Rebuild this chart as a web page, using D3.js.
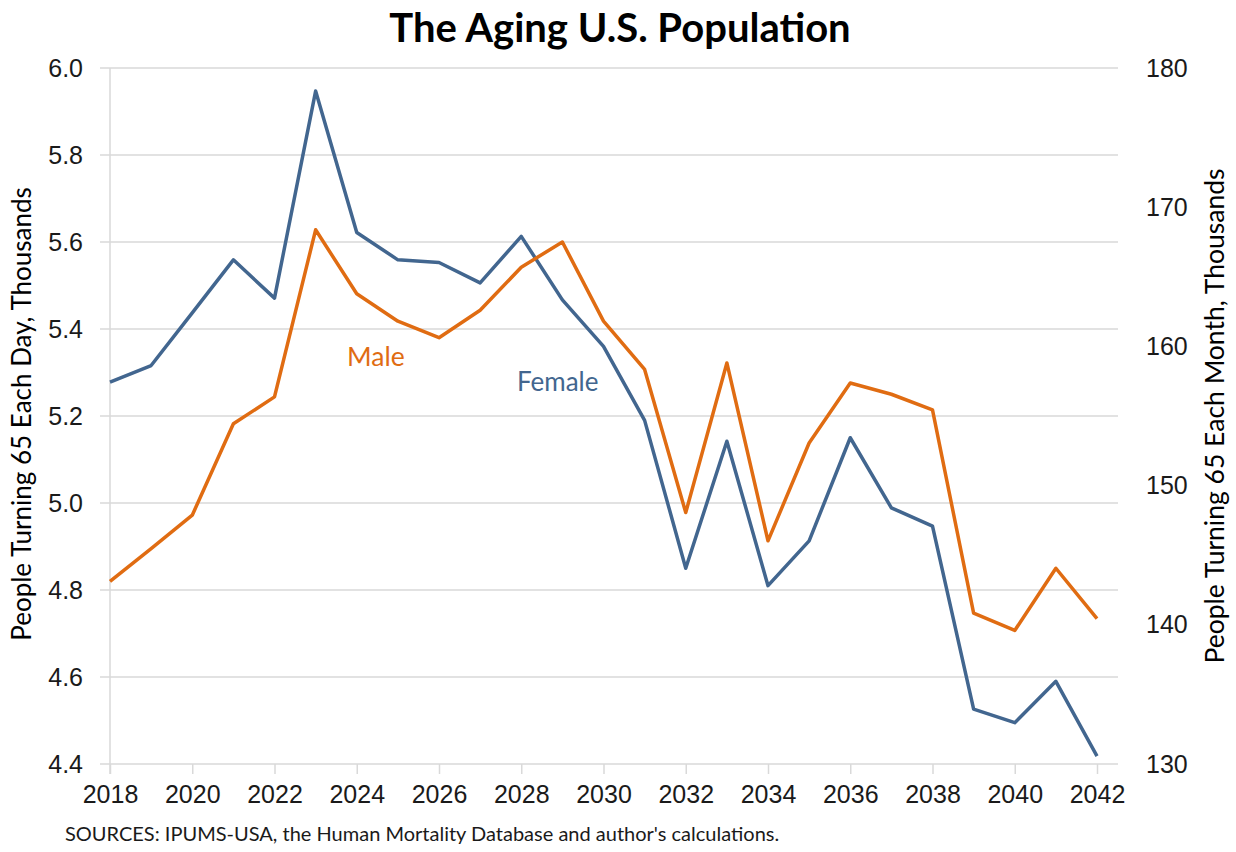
<!DOCTYPE html>
<html>
<head>
<meta charset="utf-8">
<script src="https://cdn.jsdelivr.net/npm/d3@7"></script>
<style>
  body { margin: 0; background: #fff; }
  svg { font-family: Lato, "Open Sans", sans-serif; }
  .grid line { stroke: #d9d9d9; stroke-width: 1.5; }
  .tick text { fill: #1a1a1a; }
</style>
</head>
<body>
<svg id="chart" width="1236" height="852"></svg>
<script>
// years on x axis
var years = d3.range(2018, 2043);

// people turning 65 each day, thousands
var female = [5.278, 5.316, 5.437, 5.559, 5.471, 5.947, 5.622, 5.559, 5.553, 5.506,
              5.613, 5.467, 5.360, 5.190, 4.850, 5.142, 4.810, 4.913, 5.150, 4.989,
              4.947, 4.526, 4.495, 4.590, 4.418];
var male   = [4.820, 4.895, 4.972, 5.182, 5.244, 5.628, 5.481, 5.418, 5.380, 5.443,
              5.542, 5.600, 5.418, 5.307, 4.978, 5.322, 4.913, 5.138, 5.276, 5.250,
              5.214, 4.747, 4.707, 4.850, 4.734];

var xTicks = d3.range(2018, 2043, 2);
var leftTicks = [4.4, 4.6, 4.8, 5.0, 5.2, 5.4, 5.6, 5.8, 6.0];
var rightTicks = [130, 140, 150, 160, 170, 180];

var svg = d3.select("#chart");

var x = d3.scaleLinear().domain([2018, 2042]).range([110, 1097]);
var y = d3.scaleLinear().domain([4.4, 6.0]).range([764, 68]);
var y2 = d3.scaleLinear().domain([130, 180]).range([764, 68]);

// horizontal gridlines
svg.append("g").attr("class", "grid")
  .selectAll("line")
  .data(leftTicks)
  .enter().append("line")
  .attr("x1", 100).attr("x2", 1118)
  .attr("y1", function(d){ return y(d); })
  .attr("y2", function(d){ return y(d); });

// vertical axis line
svg.append("line")
  .attr("x1", x(2018)).attr("x2", x(2018))
  .attr("y1", y(6.0)).attr("y2", y(4.4) + 10)
  .attr("stroke", "#d9d9d9").attr("stroke-width", 1.5);

// x axis
var xAxis = svg.append("g")
  .attr("transform", "translate(0," + y(4.4) + ")")
  .call(d3.axisBottom(x).tickValues(xTicks).tickFormat(d3.format("d")).tickSize(10).tickPadding(11));
xAxis.select(".domain").remove();
xAxis.selectAll(".tick line").attr("stroke", "#d9d9d9").attr("stroke-width", 1.5);
xAxis.selectAll(".tick text").style("font-size", "25px");

// left axis
var yAxis = svg.append("g")
  .attr("transform", "translate(86,0)")
  .call(d3.axisLeft(y).tickValues(leftTicks).tickFormat(d3.format(".1f")).tickSize(0).tickPadding(3));
yAxis.select(".domain").remove();
yAxis.selectAll(".tick text").style("font-size", "25px");

// right axis
var y2Axis = svg.append("g")
  .attr("transform", "translate(1146,0)")
  .call(d3.axisRight(y2).tickValues(rightTicks).tickSize(0).tickPadding(0));
y2Axis.select(".domain").remove();
y2Axis.selectAll(".tick text").style("font-size", "25px");

// lines
var line = d3.line()
  .x(function(d, i){ return x(years[i]); })
  .y(function(d){ return y(d); });

svg.append("path")
  .datum(female)
  .attr("fill", "none")
  .attr("stroke", "#42668f")
  .attr("stroke-width", 3.5)
  .attr("stroke-linejoin", "round")
  .attr("d", line);

svg.append("path")
  .datum(male)
  .attr("fill", "none")
  .attr("stroke", "#e06c12")
  .attr("stroke-width", 3.5)
  .attr("stroke-linejoin", "round")
  .attr("d", line);

// series labels
svg.append("text")
  .attr("x", 347).attr("y", 366)
  .attr("fill", "#e06c12")
  .style("font-size", "26.5px")
  .text("Male");
svg.append("text")
  .attr("x", 517).attr("y", 391)
  .attr("fill", "#42668f")
  .style("font-size", "26px")
  .text("Female");

// title
svg.append("text")
  .attr("x", 620).attr("y", 42)
  .attr("text-anchor", "middle")
  .style("font-size", "40px")
  .style("font-weight", "bold")
  .attr("fill", "#000")
  .text("The Aging U.S. Population");

// axis titles
svg.append("text")
  .attr("transform", "translate(31,414) rotate(-90)")
  .attr("text-anchor", "middle")
  .style("font-size", "26px")
  .attr("fill", "#000")
  .text("People Turning 65 Each Day, Thousands");

svg.append("text")
  .attr("transform", "translate(1224,416) rotate(-90)")
  .attr("text-anchor", "middle")
  .style("font-size", "26.5px")
  .attr("fill", "#000")
  .text("People Turning 65 Each Month, Thousands");

// source note
svg.append("text")
  .attr("x", 65).attr("y", 841)
  .style("font-size", "20px")
  .attr("fill", "#1a1a1a")
  .text("SOURCES: IPUMS-USA, the Human Mortality Database and author's calculations.");
</script>
</body>
</html>
